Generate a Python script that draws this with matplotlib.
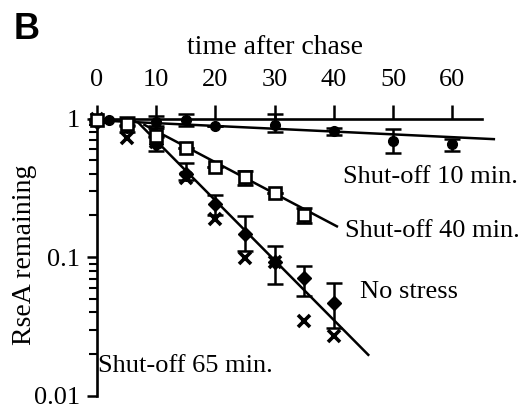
import numpy as np
import matplotlib
matplotlib.use("Agg")
import matplotlib.pyplot as plt

plt.rcParams['font.family'] = ['Liberation Serif', 'DejaVu Serif']

# shut-off 10 min (filled circles)
t10 = [0, 2, 5, 10, 15, 20, 30, 40, 50, 60]
y10 = [1.0, 0.97, 0.95, 0.95, 0.98, 0.88, 0.90, 0.81, 0.69, 0.655]
y10_hi = [1.0, 0.97, 1.02, 1.04, 1.08, 0.88, 1.08, 0.86, 0.84, 0.71]
y10_lo = [1.0, 0.97, 0.90, 0.88, 0.89, 0.88, 0.80, 0.76, 0.56, 0.585]

# shut-off 40 min (open squares)
t40 = [0, 5, 10, 15, 20, 25, 30, 35]
y40 = [0.97, 0.92, 0.75, 0.61, 0.45, 0.38, 0.29, 0.20]
y40_hi = [0.97, 0.97, 0.85, 0.61, 0.45, 0.42, 0.29, 0.227]
y40_lo = [0.97, 0.88, 0.75, 0.61, 0.45, 0.33, 0.29, 0.178]

# no stress (filled diamonds)
tns = [0, 5, 10, 15, 20, 25, 30, 35, 40]
yns = [0.95, 0.88, 0.655, 0.40, 0.24, 0.147, 0.093, 0.0705, 0.047]
yns_hi = [0.95, 0.97, 0.74, 0.48, 0.28, 0.197, 0.12, 0.086, 0.065]
yns_lo = [0.95, 0.80, 0.58, 0.36, 0.20, 0.111, 0.064, 0.053, 0.031]

# shut-off 65 min (crosses)
t65 = [0, 5, 10, 15, 20, 25, 30, 35, 40]
y65 = [1.0, 0.72, 0.68, 0.37, 0.19, 0.098, 0.092, 0.035, 0.027]

# fitted lines (start, end)
fit10_t = [0, 67]
fit10_y = [0.97, 0.71]
fit40_t = [8, 40.5]
fit40_y = [0.90, 0.167]
fitns_t = [7, 45.8]
fitns_y = [0.93, 0.0198]

fig = plt.figure(figsize=(5.26, 4.09), dpi=100)
ax = fig.add_axes([97/526, 1-396/409, 385/526, (396-118.5)/409])
ax.set_yscale('log')
ax.set_xlim(0, 65)
ax.set_ylim(0.01, 1)

lw = 1.8
for tt, yy in [(fit10_t, fit10_y), (fit40_t, fit40_y), (fitns_t, fitns_y)]:
    ax.plot(tt, yy, color='black', lw=lw, clip_on=False, zorder=2)

def err(y, lo, hi):
    y, lo, hi = map(np.array, (y, lo, hi))
    return [y - lo, hi - y]

ax.errorbar(t10, y10, yerr=err(y10, y10_lo, y10_hi), fmt='o', ms=7, color='black',
            elinewidth=lw, capsize=6, capthick=lw, clip_on=False, zorder=3)
ax.errorbar(t40, y40, yerr=err(y40, y40_lo, y40_hi), fmt='s', ms=8.5, mfc='white',
            mec='black', mew=1.9, color='black', elinewidth=lw, capsize=6,
            capthick=lw, clip_on=False, zorder=4)
ax.errorbar(tns, yns, yerr=err(yns, yns_lo, yns_hi), fmt='D', ms=7.5, color='black',
            elinewidth=lw, capsize=6, capthick=lw, clip_on=False, zorder=3)
ax.plot(t65, y65, 'x', ms=9, mew=2.6, color='black', clip_on=False, zorder=3)

# axes styling
for s in ['right', 'bottom']:
    ax.spines[s].set_visible(False)
for s in ['top', 'left']:
    ax.spines[s].set_linewidth(1.9)
ax.xaxis.tick_top()
ax.set_xticks([0, 10, 20, 30, 40, 50, 60])
ax.tick_params(axis='x', direction='out', length=10, width=1.8, labelsize=19, pad=10)
ax.set_yticks([0.01, 0.1, 1])
ax.set_yticklabels(['0.01', '0.1', '1'])
ax.tick_params(axis='y', which='major', direction='out', length=7, width=1.8,
               labelsize=19, pad=5)
ax.tick_params(axis='y', which='minor', direction='out', length=6, width=1.5)
ax.tick_params(axis='y', which='minor', labelleft=False)

fig.text(25/526, 1-255/409, 'RseA remaining', fontsize=20, rotation=90,
         ha='center', va='center')

ax.text(41.6, 0.3815, 'Shut-off 10 min.', fontsize=19, va='center')
ax.text(41.9, 0.154, 'Shut-off 40 min.', fontsize=19, va='center')
ax.text(44.4, 0.0564, 'No stress', fontsize=19, va='center')
ax.text(0.2, 0.0164, 'Shut-off 65 min.', fontsize=19, va='center')

fig.text(275/526, 1-48/409, 'time after chase', fontsize=20, ha='center', va='center')
fig.text(14/526, 1-12/409, 'B', fontsize=26, fontweight='bold', family='Liberation Sans',
         ha='left', va='top')

fig.savefig('out.png', dpi=100)
